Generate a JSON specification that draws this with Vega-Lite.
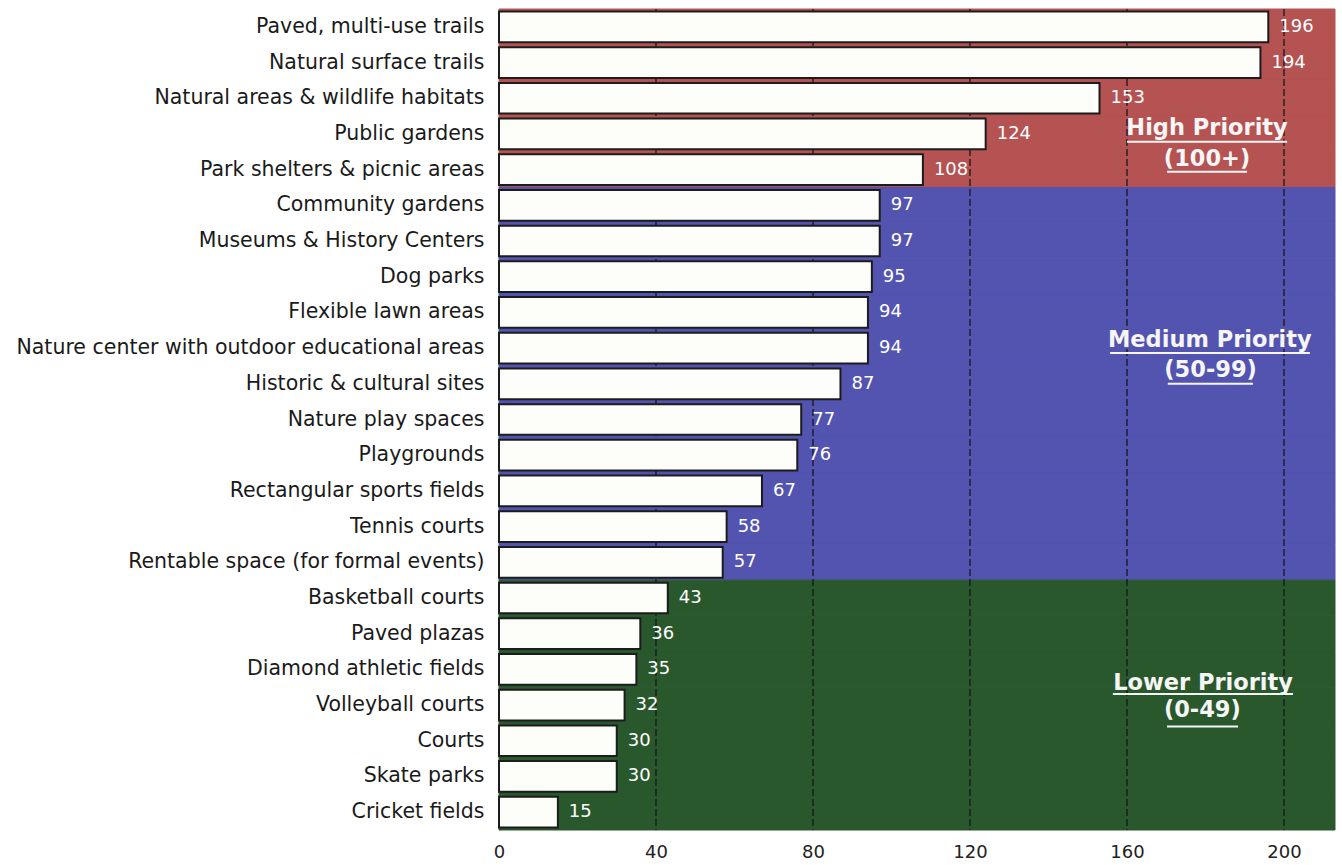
{
  "$schema": "https://vega.github.io/schema/vega-lite/v6.json",
  "autosize": {"type": "none"},
  "width": 836,
  "height": 821,
  "padding": {"left": 499, "top": 9, "right": 7, "bottom": 35},
  "background": "#ffffff",
  "config": {"view": {"stroke": null}},
  "datasets": {
    "items": [
      {"item": "Paved, multi-use trails", "count": 196, "priority": "High"},
      {"item": "Natural surface trails", "count": 194, "priority": "High"},
      {"item": "Natural areas & wildlife habitats", "count": 153, "priority": "High"},
      {"item": "Public gardens", "count": 124, "priority": "High"},
      {"item": "Park shelters & picnic areas", "count": 108, "priority": "High"},
      {"item": "Community gardens", "count": 97, "priority": "Medium"},
      {"item": "Museums & History Centers", "count": 97, "priority": "Medium"},
      {"item": "Dog parks", "count": 95, "priority": "Medium"},
      {"item": "Flexible lawn areas", "count": 94, "priority": "Medium"},
      {"item": "Nature center with outdoor educational areas", "count": 94, "priority": "Medium"},
      {"item": "Historic & cultural sites", "count": 87, "priority": "Medium"},
      {"item": "Nature play spaces", "count": 77, "priority": "Medium"},
      {"item": "Playgrounds", "count": 76, "priority": "Medium"},
      {"item": "Rectangular sports fields", "count": 67, "priority": "Medium"},
      {"item": "Tennis courts", "count": 58, "priority": "Medium"},
      {"item": "Rentable space (for formal events)", "count": 57, "priority": "Medium"},
      {"item": "Basketball courts", "count": 43, "priority": "Lower"},
      {"item": "Paved plazas", "count": 36, "priority": "Lower"},
      {"item": "Diamond athletic fields", "count": 35, "priority": "Lower"},
      {"item": "Volleyball courts", "count": 32, "priority": "Lower"},
      {"item": "Courts", "count": 30, "priority": "Lower"},
      {"item": "Skate parks", "count": 30, "priority": "Lower"},
      {"item": "Cricket fields", "count": 15, "priority": "Lower"}
    ],
    "grid": [{"g": 40}, {"g": 80}, {"g": 120}, {"g": 160}, {"g": 200}],
    "labels": [
      {"text": "High Priority", "x": 180.4, "row": 3.33, "u1": 160, "u2": 200.8, "urow": 3.72},
      {"text": "(100+)", "x": 180.4, "row": 4.19, "u1": 170.2, "u2": 190.6, "urow": 4.56},
      {"text": "Medium Priority", "x": 181.1, "row": 9.27, "u1": 155.7, "u2": 206.6, "urow": 9.64},
      {"text": "(50-99)", "x": 181.3, "row": 10.11, "u1": 170.4, "u2": 192.1, "urow": 10.5},
      {"text": "Lower Priority", "x": 179.4, "row": 18.88, "u1": 156.4, "u2": 202.3, "urow": 19.19},
      {"text": "(0-49)", "x": 179.2, "row": 19.64, "u1": 170.2, "u2": 188.3, "urow": 20.1}
    ]
  },
  "layer": [
    {
      "layer": [
        {
          "data": {"name": "items"},
          "mark": {"type": "bar", "orient": "horizontal", "strokeWidth": 1},
          "encoding": {
            "y": {
              "field": "item", "type": "nominal", "sort": null,
              "scale": {"paddingInner": 0, "paddingOuter": 0},
              "axis": {
                "title": null, "ticks": false, "labelPadding": 15, "labelLimit": 0,
                "labelFont": "DejaVu Sans", "labelFontSize": 20.5, "labelColor": "#1a1a1a",
                "domain": true, "domainColor": "#9a9a9a", "domainWidth": 1
              }
            },
            "x": {
              "datum": 213, "type": "quantitative",
              "scale": {"domain": [0, 213], "nice": false, "zero": true},
              "axis": {
                "title": null, "values": [0, 40, 80, 120, 160, 200], "grid": false,
                "domain": false, "ticks": false, "labelPadding": 13, "labelFlush": false,
                "labelFont": "DejaVu Sans", "labelFontSize": 18, "labelColor": "#222222"
              }
            },
            "color": {
              "field": "priority", "type": "nominal", "legend": null,
              "scale": {"domain": ["High", "Medium", "Lower"], "range": ["#B55252", "#5353B0", "#2A582D"]}
            },
            "stroke": {
              "field": "priority", "type": "nominal", "legend": null,
              "scale": {"domain": ["High", "Medium", "Lower"], "range": ["#B55252", "#5353B0", "#2A582D"]}
            }
          }
        },
        {
          "data": {"name": "grid"},
          "mark": {"type": "rule", "color": "#15151c", "strokeWidth": 1.5, "strokeDash": [7, 3], "opacity": 0.85},
          "encoding": {
            "x": {"field": "g", "type": "quantitative", "scale": {"domain": [0, 213], "nice": false}}
          }
        },
        {
          "data": {"name": "items"},
          "mark": {"type": "bar", "orient": "horizontal", "height": {"band": 0.86}, "fill": "#FDFDF9", "stroke": "#1c1c1c", "strokeWidth": 2},
          "encoding": {
            "y": {"field": "item", "type": "nominal", "sort": null},
            "x": {"field": "count", "type": "quantitative", "scale": {"domain": [0, 213], "nice": false}}
          }
        },
        {
          "data": {"name": "items"},
          "mark": {"type": "text", "align": "left", "baseline": "middle", "dx": 11, "font": "DejaVu Sans", "fontSize": 18, "color": "#ffffff"},
          "encoding": {
            "y": {"field": "item", "type": "nominal", "sort": null},
            "x": {"field": "count", "type": "quantitative", "scale": {"domain": [0, 213], "nice": false}},
            "text": {"field": "count", "type": "quantitative"}
          }
        }
      ]
    },
    {
      "data": {"name": "labels"},
      "layer": [
        {
          "mark": {"type": "text", "align": "center", "baseline": "middle", "font": "DejaVu Sans", "fontWeight": "bold", "fontSize": 22.5, "color": "#f6f6f6"},
          "encoding": {
            "x": {"field": "x", "type": "quantitative", "scale": {"domain": [0, 213], "nice": false}},
            "y": {"field": "row", "type": "quantitative", "axis": null, "scale": {"domain": [0, 23], "nice": false, "zero": false, "reverse": true}},
            "text": {"field": "text", "type": "nominal"}
          }
        },
        {
          "mark": {"type": "rule", "color": "#f6f6f6", "strokeWidth": 2},
          "encoding": {
            "x": {"field": "u1", "type": "quantitative", "scale": {"domain": [0, 213], "nice": false}},
            "x2": {"field": "u2"},
            "y": {"field": "urow", "type": "quantitative", "axis": null, "scale": {"domain": [0, 23], "nice": false, "zero": false, "reverse": true}}
          }
        }
      ]
    }
  ],
  "resolve": {"scale": {"y": "independent"}, "axis": {"y": "independent"}}
}
